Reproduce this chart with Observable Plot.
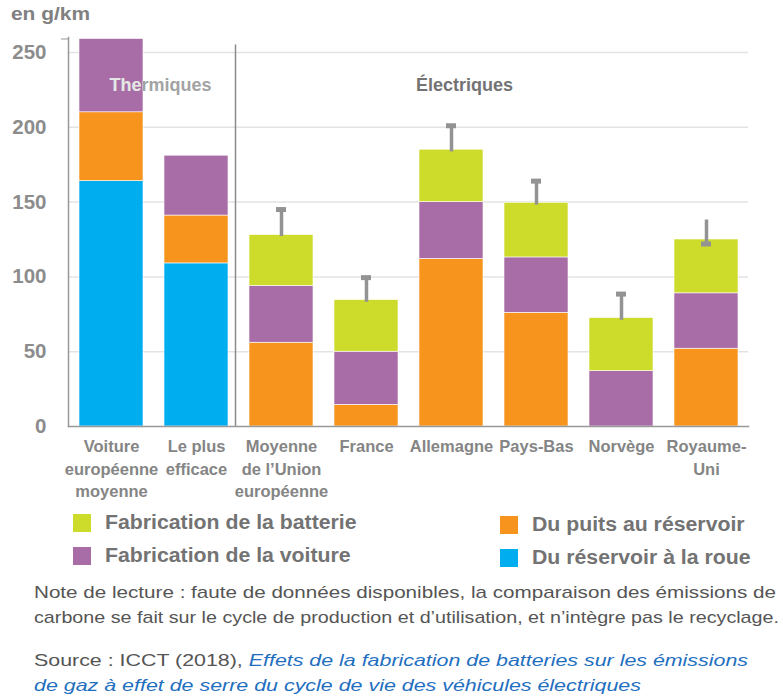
<!DOCTYPE html>
<html>
<head>
<meta charset="utf-8">
<script src="https://cdn.jsdelivr.net/npm/d3@7"></script>
<script src="https://cdn.jsdelivr.net/npm/@observablehq/plot@0.6"></script>
<style>
  body { margin: 0; background: #fff; }
  #wrap { position: relative; width: 783px; height: 699px; font-family: "Liberation Sans", Arial, sans-serif; overflow: hidden; }
  #title { position: absolute; left: 11px; top: 3px; font-size: 19px; font-weight: bold; color: #808080; transform: scaleX(1.1); transform-origin: left top; white-space: nowrap; }
  #chart { position: absolute; left: 0; top: 0; }
  .leg { position: absolute; font-size: 19.5px; font-weight: bold; color: #737373; display: flex; align-items: center; white-space: nowrap; }
  .leg span.t { display: inline-block; transform: scaleX(1.09); transform-origin: left center; }
  .sw { width: 18px; height: 18px; margin-right: 14px; display: inline-block; }
  .ln { position: absolute; left: 34px; font-size: 17px; color: #555; line-height: 25px; white-space: nowrap; }
  .ln span { display: inline-block; transform-origin: left top; }
  .ln i { color: #1f6fbf; }
</style>
</head>
<body>
<div id="wrap">
  <div id="chart"></div>
  <div id="title">en g/km</div>
  <div id="legend"></div>
  <div class="ln" style="top:580px" data-w="742"><span>Note de lecture : faute de données disponibles, la comparaison des émissions de</span></div>
  <div class="ln" style="top:605px" data-w="745"><span>carbone se fait sur le cycle de production et d’utilisation, et n’intègre pas le recyclage.</span></div>
  <div class="ln" style="top:648px" data-w="714"><span>Source : ICCT (2018), <i>Effets de la fabrication de batteries sur les émissions</i></span></div>
  <div class="ln" style="top:673px" data-w="607"><span><i>de gaz à effet de serre du cycle de vie des véhicules électriques</i></span></div>
</div>
<script>
const categories = [
  "Voiture\neuropéenne\nmoyenne",
  "Le plus\nefficace",
  "Moyenne\nde l’Union\neuropéenne",
  "France",
  "Allemagne",
  "Pays-Bas",
  "Norvège",
  "Royaume-\nUni"
];
const series = ["Du réservoir à la roue", "Du puits au réservoir", "Fabrication de la voiture", "Fabrication de la batterie"];
const colors = ["#00aeef", "#f7941e", "#a86ca6", "#cddc2b"];

const reservoirRoue = [164, 109, 0, 0, 0, 0, 0, 0];
const puitsReservoir = [46, 32, 56, 14.5, 112, 76, 0, 52];
const fabVoiture = [49, 40, 38, 35.5, 38, 37, 37, 37];
const fabBatterie = [0, 0, 34, 34.5, 35, 36.5, 35.5, 36];

const errCategories = categories.slice(2);
const errLow = [127, 83, 183.5, 148, 71, 122];
const errHigh = [145, 99.5, 201, 164, 88.5, 138];
const errCap = [145, 99.5, 201, 164, 88.5, 122];

const yTicks = [0, 50, 100, 150, 200, 250];
const thermLabel = [{cat: categories[0], y: 228, text: "Thermiques"}];
const electLabel = [{cat: categories[4], y: 228, text: "Électriques"}];

const values = [reservoirRoue, puitsReservoir, fabVoiture, fabBatterie];
const data = [];
series.forEach((s, i) => categories.forEach((c, j) => data.push({cat: c, serie: s, value: values[i][j]})));
const errs = errCategories.map((c, i) => ({cat: c, lo: errLow[i], hi: errHigh[i], cap: errCap[i]}));

const font = "\"Liberation Sans\", Arial, sans-serif";

const chart = Plot.plot({
  width: 783,
  height: 505,
  marginLeft: 68,
  marginRight: 35,
  marginTop: 37,
  marginBottom: 79,
  style: {fontFamily: font, background: "transparent"},
  x: {domain: categories, paddingInner: 0.248, paddingOuter: 0.1175, label: null},
  y: {domain: [0, 260], label: null},
  color: {domain: series, range: colors},
  marks: [
    Plot.gridY(yTicks.filter(d => d > 0), {stroke: "#e3e3e3", strokeOpacity: 1, strokeWidth: 1.5}),
    Plot.barY(data, {x: "cat", y: "value", fill: "serie", order: series, stroke: "white", strokeWidth: 0.6}),
    Plot.ruleX([categories[1]], {dx: 39, y1: 0, y2: 255, stroke: "#8a8a8a", strokeWidth: 1.5}),
    Plot.ruleX(errs, {x: "cat", y1: "lo", y2: "hi", stroke: "#939393", strokeWidth: 3.5}),
    Plot.tickY(errs, {x: "cat", y: "cap", stroke: "#939393", strokeWidth: 5, insetLeft: 27, insetRight: 27}),
    Plot.text(thermLabel, {x: "cat", y: "y", text: "text", dx: 49, fill: "#a3a3a3", fontSize: 18, fontWeight: "bold"}),
    Plot.text(electLabel, {x: "cat", y: "y", text: "text", dx: 13, fill: "#737373", fontSize: 18, fontWeight: "bold"}),
    Plot.axisY({ticks: yTicks, tickSize: 0, tickPadding: 22, fontSize: 20.5, fontWeight: "bold", fill: "#8c8c8c", label: null}),
    Plot.axisY({ticks: [259], tickSize: 7, tickFormat: () => "", stroke: "#999"}),
    Plot.frame({anchor: "left", stroke: "#999", strokeWidth: 1.5}),
    Plot.frame({anchor: "bottom", stroke: "#999", strokeWidth: 1.5}),
    Plot.axisX({tickSize: 0, tickPadding: 10, fontSize: 16.5, fontWeight: "bold", fill: "#858585", lineHeight: 1.36, label: null})
  ]
});
document.getElementById("chart").appendChild(chart);

// Lighter part of "Thermiques" where it overlaps the first bar
(function () {
  const xs = chart.scale("x");
  const x0 = xs.apply(categories[0]);
  const bw = xs.bandwidth;
  const ns = "http://www.w3.org/2000/svg";
  const defs = document.createElementNS(ns, "defs");
  const cp = document.createElementNS(ns, "clipPath");
  cp.setAttribute("id", "thermClip");
  const r = document.createElementNS(ns, "rect");
  r.setAttribute("x", x0); r.setAttribute("y", 0);
  r.setAttribute("width", bw); r.setAttribute("height", 505);
  cp.appendChild(r); defs.appendChild(cp); chart.appendChild(defs);
  const t = Array.from(chart.querySelectorAll("text")).find(e => e.textContent === "Thermiques");
  if (t) {
    const g = t.parentNode;
    const clone = g.cloneNode(true);
    clone.setAttribute("fill", "#e6e6e6");
    clone.querySelectorAll("text").forEach(e => e.setAttribute("fill", "#e6e6e6"));
    const wrap = document.createElementNS(ns, "g");
    wrap.setAttribute("clip-path", "url(#thermClip)");
    wrap.appendChild(clone);
    g.parentNode.insertBefore(wrap, g.nextSibling);
  }
})();

const legendItems = [
  {s: 3, left: 73, top: 511},
  {s: 2, left: 73, top: 544},
  {s: 1, left: 500, top: 513},
  {s: 0, left: 500, top: 546}
];
const lg = document.getElementById("legend");
legendItems.forEach(it => {
  const d = document.createElement("div");
  d.className = "leg";
  d.style.left = it.left + "px";
  d.style.top = it.top + "px";
  d.innerHTML = `<span class="sw" style="background:${colors[it.s]}"></span><span class="t">${series[it.s]}</span>`;
  lg.appendChild(d);
});

// Fit each note line to the width it has in the reference
document.querySelectorAll(".ln").forEach(ln => {
  const sp = ln.querySelector("span");
  const w = sp.getBoundingClientRect().width;
  const target = +ln.dataset.w;
  if (w > 0) sp.style.transform = `scaleX(${target / w})`;
});
</script>
</body>
</html>
